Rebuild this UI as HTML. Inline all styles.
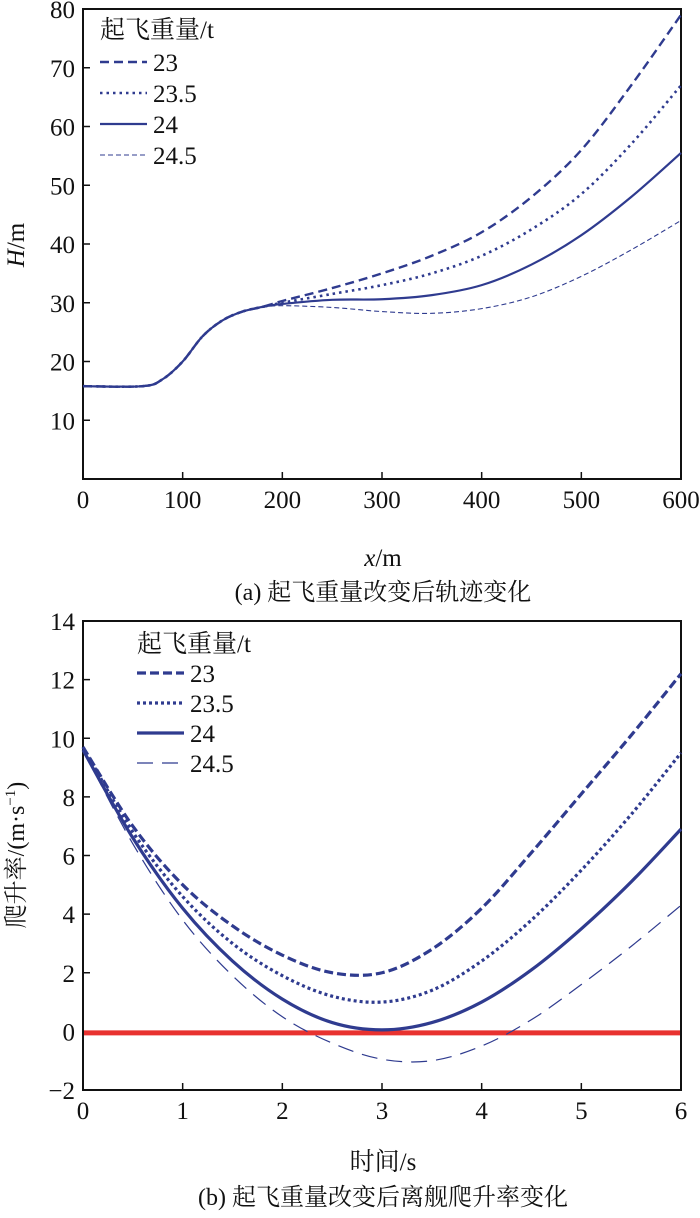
<!DOCTYPE html>
<html><head><meta charset="utf-8"><style>
body{margin:0;background:#fff}
svg text{font-family:"Liberation Serif","Noto Serif CJK SC",serif;fill:#111}
</style></head><body>
<svg id="c" width="700" height="1213" xmlns="http://www.w3.org/2000/svg"></svg>
<script>
const xA=[0,60,80,100,120,140,160,180,200,250,300,350,400,450,500,550,600];
const hA23  =[15.8,15.8,17,20,24.3,27,28.5,29.3,30.3,32.5,35,38,42,48,56,67,79];
const hA235 =[15.8,15.8,17,20,24.3,27,28.5,29.3,30,31.5,33,35,38,42.5,48.5,57,67];
const hA24  =[15.8,15.8,17,20,24.3,27,28.5,29.3,29.8,30.5,30.6,31.3,33,36.5,41.5,48,55.5];
const hA245 =[15.8,15.8,17,20,24.3,27,28.5,29.2,29.5,29.2,28.5,28.2,29,31,34.5,39,44];
const tB=[0,0.5,1,1.5,2,2.5,3,3.5,4,4.5,5,5.5,6];
const vB23  =[9.7,7,5,3.6,2.6,2.0,2.0,2.8,4.2,6.1,8.1,10.1,12.2];
const vB235 =[9.7,6.8,4.6,3,1.9,1.2,1.0,1.4,2.4,3.8,5.5,7.4,9.5];
const vB24  =[9.6,6.6,4.2,2.4,1.1,0.3,0.05,0.3,1.0,2.1,3.5,5.1,6.9];
const vB245 =[9.6,6.4,3.8,1.9,0.5,-0.4,-0.95,-1.0,-0.5,0.4,1.6,2.9,4.3];
const xTicksA=[0,100,200,300,400,500,600];
const yTicksA=[10,20,30,40,50,60,70,80];
const xTicksB=[0,1,2,3,4,5,6];
const yTicksB=[-2,0,2,4,6,8,10,12,14];
const legendLabels=["23","23.5","24","24.5"];
const NS="http://www.w3.org/2000/svg";
const svg=document.getElementById('c');
const C="#2f3b8f";
function el(t,a,txt){const e=document.createElementNS(NS,t);for(const k in a)e.setAttribute(k,a[k]);if(txt!==undefined)e.textContent=txt;svg.appendChild(e);return e;}
function smooth(pts){let d=`M${pts[0][0]},${pts[0][1]}`;for(let i=0;i<pts.length-1;i++){const p0=pts[i-1]||pts[i],p1=pts[i],p2=pts[i+1],p3=pts[i+2]||p2;d+=` C${p1[0]+(p2[0]-p0[0])/6},${p1[1]+(p2[1]-p0[1])/6} ${p2[0]-(p3[0]-p1[0])/6},${p2[1]-(p3[1]-p1[1])/6} ${p2[0]},${p2[1]}`;}return d;}
function chart(cfg){
 const sx=v=>cfg.x0+(v-cfg.xmin)/(cfg.xmax-cfg.xmin)*(cfg.x1-cfg.x0);
 const sy=v=>cfg.y0-(v-cfg.ymin)/(cfg.ymax-cfg.ymin)*(cfg.y0-cfg.y1);
 const r=el('rect',{x:cfg.x0,y:cfg.y1,width:cfg.x1-cfg.x0,height:cfg.y0-cfg.y1,fill:'none',stroke:'#111','stroke-width':2});
 
 cfg.xt.forEach(v=>{const l=el('line',{x1:sx(v),x2:sx(v),y1:cfg.y0,y2:cfg.y0-7,stroke:'#111','stroke-width':1.5});
  
  const t=el('text',{x:sx(v),y:cfg.y0+29,'text-anchor':'middle','font-size':25},String(v));
  });
 cfg.yt.forEach(v=>{const l=el('line',{x1:cfg.x0,x2:cfg.x0+7,y1:sy(v),y2:sy(v),stroke:'#111','stroke-width':1.5});
  
  const t=el('text',{x:cfg.x0-8,y:sy(v)+9,'text-anchor':'end','font-size':25},v<0?'\u2212'+(-v):String(v));
  });
 if(cfg.red){const l=el('line',{x1:cfg.x0+1,x2:cfg.x1-1,y1:sy(-0.05),y2:sy(-0.05),stroke:'#e8322f','stroke-width':5});
  }
 cfg.series.forEach((s,i)=>{const pts=cfg.xs.map((x,j)=>[sx(x),sy(s[j])]);
  const p=el('path',{d:smooth(pts),fill:'none',stroke:C,'stroke-width':cfg.sw[i],'stroke-dasharray':cfg.dash[i]});
  });
 const lt=el('text',{x:cfg.lx,y:cfg.ly,'font-size':25},'起飞重量/t');
 
 legendLabels.forEach((n,i)=>{const y=cfg.ly+cfg.lstart+i*cfg.lgap;
  const l=el('line',{x1:cfg.lx,x2:cfg.lx+47,y1:y,y2:y,stroke:C,'stroke-width':cfg.sw[i],'stroke-dasharray':cfg.dash[i]});
  
  const t=el('text',{x:cfg.lx+53,y:y+9,'font-size':25},n);
  });
}
chart({p:'trajectory',x0:83,x1:681,y0:479,y1:9,xmin:0,xmax:600,ymin:0,ymax:80,xt:xTicksA,yt:yTicksA,xs:xA,
 series:[hA23,hA235,hA24,hA245],sw:[2.4,2.6,2.2,1.1],dash:['9,5','2.5,4','none','5,3'],lx:100,ly:38,lstart:24,lgap:31});
chart({p:'climb-rate',x0:83,x1:681,y0:1090,y1:621,xmin:0,xmax:6,ymin:-2,ymax:14,xt:xTicksB,yt:yTicksB,xs:tB,
 series:[vB23,vB235,vB24,vB245],sw:[3.2,3.2,3.2,1.2],dash:['9,4','3,3','none','16,9'],red:true,lx:137,ly:652,lstart:21,lgap:30});
function txt(a,s,name){const t=el('text',a);t.innerHTML=s;}
txt({x:383,y:566,'text-anchor':'middle','font-size':25},'<tspan font-style="italic">x</tspan>/m','x-axis-title-a');
txt({x:383,y:600,'text-anchor':'middle','font-size':24},'(a) 起飞重量改变后轨迹变化','caption-a');
txt({x:0,y:0,'text-anchor':'middle','font-size':25,transform:'translate(24,245) rotate(-90)'},'<tspan font-style="italic">H</tspan>/m','y-axis-title-a');
txt({x:383,y:1170,'text-anchor':'middle','font-size':25},'时间/s','x-axis-title-b');
txt({x:383,y:1205,'text-anchor':'middle','font-size':24},'(b) 起飞重量改变后离舰爬升率变化','caption-b');
txt({x:0,y:0,'text-anchor':'middle','font-size':24,transform:'translate(24,855) rotate(-90)'},'爬升率/(m·s<tspan font-size="15" dy="-9">−1</tspan><tspan dy="9">)</tspan>','y-axis-title-b');
</script>
</body></html>
